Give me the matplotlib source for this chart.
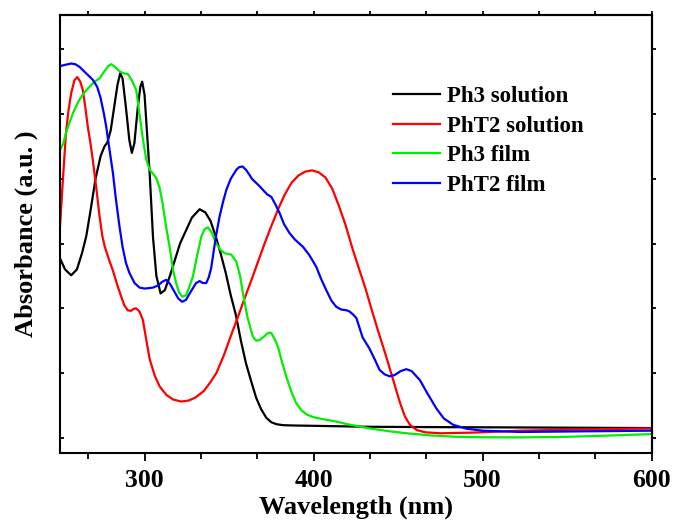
import matplotlib
matplotlib.use("Agg")
import matplotlib.pyplot as plt
from matplotlib.ticker import MultipleLocator, AutoMinorLocator, NullFormatter

# ---------------- data ----------------
ph3_sol_wl = [250, 253, 256.6, 260, 263, 265.5, 268, 271, 274, 276.3, 278, 280, 282, 284,
              285.6, 287, 289, 291, 292.5, 294, 296, 297.5, 298.6, 300, 301.5, 303, 305,
              307, 309.5, 312, 315, 318, 321, 324.5, 328, 332.6, 336, 339, 342, 345, 348,
              351, 354, 357, 360, 363, 366, 369, 372, 375, 378, 382, 388, 400, 433, 470,
              520, 560, 600]
ph3_sol_abs = [2.77, 2.6, 2.51, 2.6, 2.85, 3.11, 3.5, 4.0, 4.35, 4.50, 4.56, 4.75, 5.1, 5.45,
               5.63, 5.55, 5.1, 4.6, 4.40, 4.55, 5.1, 5.42, 5.50, 5.3, 4.7, 4.1, 3.1,
               2.5, 2.23, 2.28, 2.5, 2.75, 3.0, 3.2, 3.4, 3.53, 3.48, 3.35, 3.12, 2.85, 2.55,
               2.2, 1.9, 1.5, 1.15, 0.88, 0.62, 0.44, 0.31, 0.24, 0.21, 0.195, 0.19, 0.185,
               0.17, 0.165, 0.16, 0.155, 0.15]

pht2_sol_wl = [250, 251.5, 253.5, 255, 256.6, 258.5, 260.2, 262, 263.5, 265, 266.4, 268,
               269.4, 271.5, 273.4, 275, 276.5, 279, 281.2, 284, 286.2, 288, 290, 292,
               293.5, 295, 297, 299, 301, 303, 306, 309, 313, 317, 321.7, 326, 330, 335,
               339, 342.5, 347, 351, 355, 359, 363, 367, 371, 375, 379, 383, 387, 391,
               395, 399, 403, 407, 411, 415, 419, 423, 427, 431, 435, 439, 443, 447, 451,
               454, 457, 461, 466, 475, 494, 522, 560, 600]
pht2_sol_abs = [3.26, 3.9, 4.7, 5.05, 5.32, 5.52, 5.57, 5.5, 5.37, 5.1, 4.81, 4.55,
                4.29, 3.85, 3.42, 3.12, 2.95, 2.75, 2.59, 2.35, 2.18, 2.05, 1.97, 1.96,
                1.99, 2.0, 1.95, 1.82, 1.52, 1.22, 0.96, 0.79, 0.66, 0.59, 0.56, 0.575,
                0.62, 0.72, 0.86, 1.0, 1.28, 1.57, 1.85, 2.14, 2.42, 2.71, 3.0, 3.27,
                3.53, 3.76, 3.94, 4.05, 4.11, 4.13, 4.10, 4.02, 3.85, 3.58, 3.28, 2.92,
                2.6, 2.28, 1.92, 1.58, 1.25, 0.9, 0.55, 0.33, 0.2, 0.12, 0.085, 0.07,
                0.08, 0.11, 0.13, 0.145]

ph3_film_wl = [250, 252, 254, 257.6, 261, 264, 267.4, 270.5, 273.4, 276, 278.5, 280.3,
               282.5, 285.2, 287.5, 290.1, 292.5, 295.1, 297, 299, 301, 303, 305, 307,
               309, 310.8, 312.5, 314.8, 316.8, 318.7, 320.5, 322.3, 324.5, 326.5, 328.6,
               331, 333.6, 335.5, 337.5, 339.5, 342.4, 345, 347.4, 351.3, 354.3, 356.5,
               358.2, 361, 364.1, 366, 368.1, 371, 373, 375, 377, 378.9, 381, 383.9, 387,
               389.8, 393, 396, 399.7, 405, 413.5, 420, 433, 445, 455, 470, 484.5, 500,
               522, 550, 575, 600]
ph3_film_abs = [4.44, 4.55, 4.75, 5.01, 5.2, 5.32, 5.42, 5.5, 5.55, 5.65, 5.74, 5.77,
                5.73, 5.66, 5.63, 5.62, 5.52, 5.37, 5.0, 4.62, 4.3, 4.14, 4.08, 4.01,
                3.85, 3.6, 3.3, 2.95, 2.6, 2.39, 2.24, 2.18, 2.2, 2.33, 2.49,
                2.8, 3.11, 3.22, 3.25, 3.18, 3.0, 2.9, 2.85, 2.83, 2.72, 2.5,
                2.23, 1.85, 1.56, 1.5, 1.51, 1.57, 1.62, 1.62, 1.52, 1.41, 1.2, 0.94, 0.7,
                0.53, 0.42, 0.36, 0.32, 0.29, 0.25, 0.21, 0.145, 0.1, 0.07, 0.035, 0.015,
                0.008, 0.006, 0.015, 0.035, 0.057]

pht2_film_wl = [250, 253, 256.6, 259, 261.5, 265, 269.4, 272, 274, 276, 277.3, 279, 281.3,
                283, 285.2, 287, 289, 291, 294.1, 297, 300, 302, 305, 307.9, 310.5, 312.8,
                315, 317.8, 320, 322.3, 324.5, 326.5, 328.6, 330.5, 332.6, 334.5, 336.5,
                338, 339.4, 341, 342.5, 344.4, 346.5, 348.4, 351, 354.3, 356, 358, 360,
                362.1, 363.5, 365.1, 367.5, 370, 372.5, 375, 377.5, 379.9, 382.5, 385.8,
                389, 393.7, 397.5, 401.6, 404.5, 407.5, 410.5, 413.5, 416.5, 419.4, 421.3,
                423.5, 425.3, 429, 433, 436, 439, 442, 445, 448, 451.5, 454.9, 458, 462.9,
                467, 472.7, 477, 482.6, 490.5, 500, 522, 560, 600]
pht2_film_abs = [5.74, 5.76, 5.78, 5.77, 5.73, 5.64, 5.53, 5.42, 5.25, 5.0, 4.81, 4.5, 4.09,
                 3.7, 3.26, 2.95, 2.7, 2.55, 2.39, 2.32, 2.305, 2.31, 2.32, 2.35, 2.41, 2.44,
                 2.38, 2.25, 2.15, 2.10, 2.13, 2.22, 2.31, 2.39, 2.42, 2.39, 2.39,
                 2.48, 2.62, 2.9, 3.15, 3.42, 3.65, 3.83, 4.0, 4.14, 4.18, 4.19, 4.14,
                 4.06, 4.0, 3.96, 3.9, 3.83, 3.76, 3.72, 3.6, 3.47, 3.3, 3.16,
                 3.06, 2.95, 2.82, 2.64, 2.45, 2.28, 2.12, 2.02, 1.98, 1.97, 1.95,
                 1.9, 1.85, 1.55, 1.38, 1.22, 1.05, 0.98, 0.95, 0.97, 1.03, 1.06, 1.03, 0.89,
                 0.7, 0.45, 0.3, 0.2, 0.14, 0.11, 0.09, 0.1, 0.11]

labels = ["Ph3 solution", "PhT2 solution", "Ph3 film", "PhT2 film"]
colors = ["#000000", "#ff0000", "#00ee00", "#0000ff"]
x_ticks = [300, 400, 500, 600]

# ---------------- figure ----------------
plt.rcParams['font.family'] = ['Liberation Serif', 'DejaVu Serif']
plt.rcParams['font.weight'] = 'bold'

fig = plt.figure(figsize=(6.75, 5.2), dpi=100)
ax = fig.add_axes([0.0889, 0.1282, 0.9655 - 0.0889, 0.9712 - 0.1282])

series = [(ph3_sol_wl, ph3_sol_abs), (pht2_sol_wl, pht2_sol_abs),
          (ph3_film_wl, ph3_film_abs), (pht2_film_wl, pht2_film_abs)]
for (wl, ab), lab, col in zip(series, labels, colors):
    ax.plot(wl, ab, color=col, lw=1.6, label=lab)

ax.set_xlim(250, 600)
ax.set_ylim(-0.24, 6.53)

ax.set_xticks(x_ticks)
ax.xaxis.set_minor_locator(AutoMinorLocator(3))
ax.yaxis.set_major_locator(MultipleLocator(1))
ax.yaxis.set_major_formatter(NullFormatter())

for sp in ax.spines.values():
    sp.set_linewidth(1.5)

ax.tick_params(axis='x', which='major', direction='out', length=6, width=1.3,
               labelsize=18.5, pad=5)
ax.tick_params(axis='x', which='minor', direction='out', length=4, width=1.3)
ax.tick_params(axis='y', which='major', direction='in', length=3, width=1.3)
for lbl in ax.get_xticklabels():
    lbl.set_fontweight('bold')

# top and right ticks
sec_x = ax.secondary_xaxis('top')
sec_x.set_xticks(x_ticks)
sec_x.xaxis.set_minor_locator(AutoMinorLocator(3))
sec_x.xaxis.set_major_formatter(NullFormatter())
sec_x.tick_params(axis='x', which='both', direction='out', length=3, width=1.3)
sec_x.spines['top'].set_linewidth(1.5)

sec_y = ax.secondary_yaxis('right')
sec_y.yaxis.set_major_locator(MultipleLocator(1))
sec_y.yaxis.set_major_formatter(NullFormatter())
sec_y.tick_params(axis='y', which='both', direction='out', length=3, width=1.3)
sec_y.spines['right'].set_linewidth(1.5)

ax.set_xlabel("Wavelength (nm)", fontsize=19, fontweight='bold', labelpad=3)
ax.set_ylabel("Absorbance (a.u. )", fontsize=19, fontweight='bold', labelpad=12)

leg = ax.legend(loc='upper left', bbox_to_anchor=(0.563, 0.838), frameon=False,
                fontsize=16.5, handlelength=2.05, handletextpad=0.3,
                labelspacing=0.37, borderpad=0, borderaxespad=0)
for t in leg.get_texts():
    t.set_fontweight('bold')

fig.savefig("out.png", dpi=100)
